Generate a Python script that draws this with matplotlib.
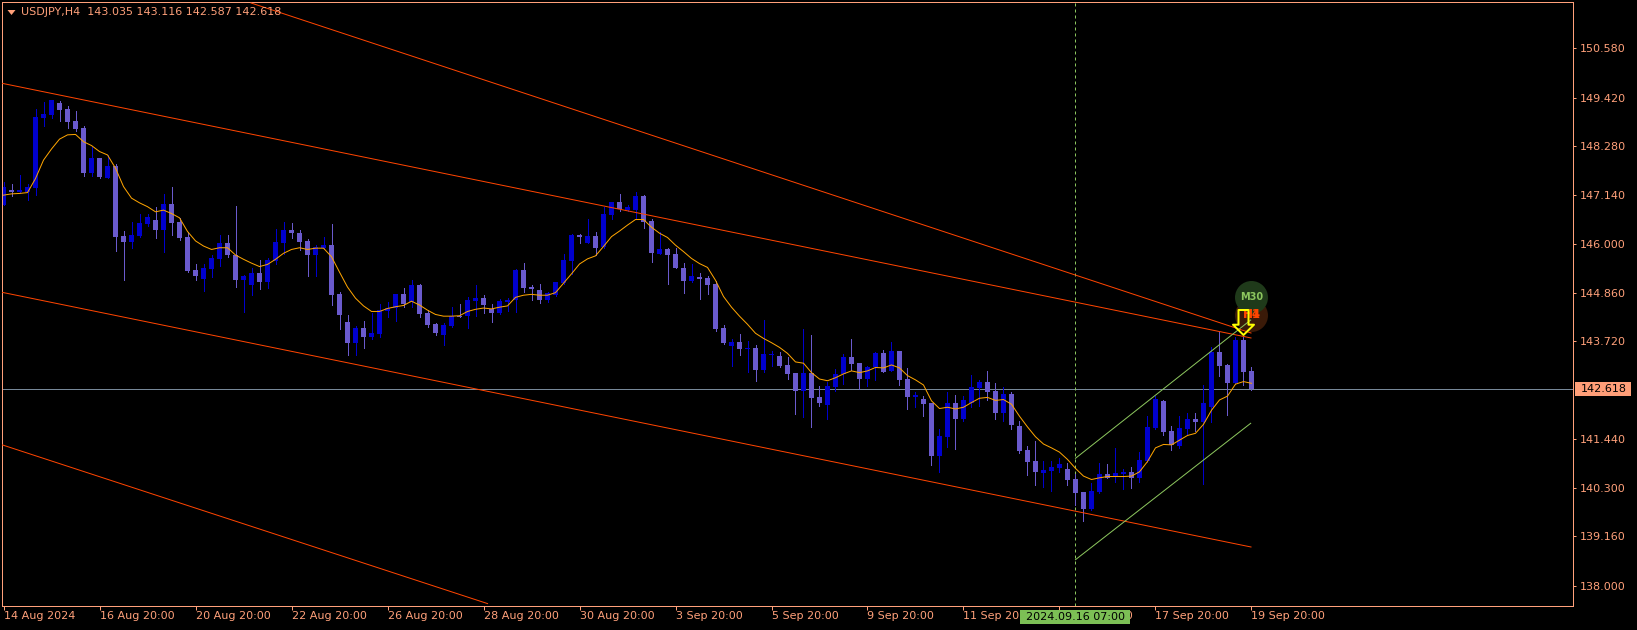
import matplotlib
matplotlib.use("Agg")
import numpy as np
import matplotlib.pyplot as plt
from matplotlib.path import Path
from matplotlib.patches import Rectangle

BLUE = "#0000CD"
SLATE = "#6A5ACD"
ORANGE = "#FFA500"
RED = "#FF4500"
SALMON = "#FFA07A"
GREEN = "#8CC65E"
FONT = "DejaVu Sans"
W, H = 1637, 630

highs = [
    147.45,147.40,147.61,147.40,149.15,149.32,149.37,149.34,149.23,149.11,
    148.76,148.27,148.01,148.08,147.88,146.30,146.51,146.70,146.70,146.86,
    147.17,147.33,146.61,146.28,145.53,145.53,145.74,146.21,146.21,146.89,
    145.27,145.44,145.62,145.67,146.35,146.51,146.49,146.33,146.12,145.97,
    146.16,146.47,144.87,144.34,144.08,144.20,144.38,144.59,144.64,144.83,
    144.97,145.16,145.06,144.45,144.15,144.15,144.52,144.59,144.76,145.04,
    144.80,144.59,144.71,144.73,145.41,145.55,145.04,145.06,144.88,145.11,
    145.76,146.23,146.23,146.58,146.28,146.86,146.98,147.17,146.91,147.21,
    147.14,146.58,146.28,145.90,145.90,145.55,145.53,145.32,145.25,145.13,
    144.10,143.77,143.89,143.73,143.63,144.22,143.49,143.47,143.35,142.98,
    144.01,143.87,142.68,142.77,143.07,143.42,143.77,143.21,143.14,143.47,
    143.52,143.71,143.49,143.10,142.54,142.44,142.28,141.67,142.54,142.47,
    142.44,142.93,142.82,143.03,142.75,142.65,142.54,141.86,141.27,141.39,
    140.92,140.92,140.99,140.88,140.62,140.20,140.41,140.88,140.85,141.23,
    140.74,140.78,141.13,141.97,142.44,142.35,141.74,141.97,142.05,142.05,
    142.70,143.59,143.94,143.19,143.83,143.83,143.116]
body_high = [
    147.33,147.26,147.26,147.33,148.97,149.04,149.37,149.30,149.15,148.87,
    148.71,148.01,148.01,147.82,147.82,146.18,146.21,146.49,146.63,146.56,
    146.93,146.93,146.51,146.16,145.39,145.44,145.67,146.02,146.02,145.74,
    145.25,145.32,145.32,145.62,146.04,146.33,146.33,146.26,146.07,145.93,
    145.97,145.97,144.83,144.17,144.03,144.03,143.92,144.45,144.50,144.83,
    144.83,145.04,145.04,144.38,144.13,144.10,144.31,144.32,144.69,144.73,
    144.73,144.48,144.66,144.69,145.39,145.39,144.99,144.92,144.85,145.11,
    145.62,146.21,146.21,146.18,146.18,146.70,146.98,146.98,146.86,147.12,
    147.12,146.54,145.88,145.88,145.76,145.44,145.25,145.23,145.20,145.06,
    144.03,143.71,143.71,143.56,143.56,143.42,143.43,143.38,143.17,142.98,
    142.98,142.98,142.42,142.68,142.96,143.35,143.35,143.21,143.12,143.45,
    143.45,143.49,143.49,142.84,142.47,142.37,142.28,141.51,142.28,142.28,
    142.35,142.65,142.77,142.77,142.56,142.49,142.49,141.74,141.18,140.92,
    140.71,140.78,140.85,140.74,140.50,140.20,140.22,140.62,140.62,140.64,
    140.67,140.67,140.95,141.72,142.37,142.33,141.62,141.69,141.90,141.90,
    142.28,143.47,143.47,143.17,143.75,143.75,143.035]
body_low = [
    146.91,147.22,147.21,147.22,147.31,148.94,149.01,149.13,148.85,148.69,
    147.66,147.66,147.56,147.54,146.16,146.04,146.04,146.18,146.47,146.33,
    146.33,146.49,146.14,145.37,145.25,145.18,145.41,145.65,145.74,145.16,
    145.16,145.04,145.11,145.11,145.60,146.02,146.26,146.04,145.74,145.74,
    145.90,144.81,144.34,143.68,143.68,143.82,143.82,143.89,144.43,144.50,
    144.59,144.64,144.36,144.10,143.92,143.87,144.08,144.30,144.31,144.66,
    144.57,144.38,144.38,144.64,144.69,144.97,144.95,144.69,144.69,144.80,
    145.09,145.60,146.16,146.02,145.90,145.93,146.68,146.82,146.79,146.79,
    146.51,145.79,145.76,145.74,145.44,145.13,145.13,145.18,145.04,144.01,
    143.68,143.61,143.54,143.54,143.05,143.05,143.41,143.14,142.96,142.56,
    142.56,142.40,142.28,142.23,142.65,142.96,143.19,142.84,142.84,143.12,
    143.00,143.03,142.82,142.42,142.42,142.26,141.04,141.04,141.48,141.90,
    141.90,142.28,142.63,142.54,142.04,142.04,141.76,141.16,140.90,140.67,
    140.64,140.69,140.76,140.48,140.17,139.80,139.80,140.20,140.53,140.57,
    140.62,140.53,140.53,140.92,141.69,141.60,141.30,141.27,141.67,141.83,
    141.83,142.19,143.14,142.75,142.75,143.00,142.618]
lows = [
    146.91,147.13,147.18,147.03,147.14,148.76,148.94,148.87,148.71,148.64,
    147.59,147.59,147.54,147.54,145.83,145.16,145.90,146.16,146.42,146.14,
    145.81,146.21,146.09,145.34,145.16,144.90,145.23,145.48,145.69,145.00,
    144.41,144.81,144.94,144.97,145.53,145.76,146.14,145.86,145.25,145.25,
    145.88,144.57,144.01,143.40,143.40,143.56,143.78,143.82,144.29,144.20,
    144.52,144.52,144.29,144.06,143.87,143.63,144.06,144.29,144.03,144.31,
    144.38,144.17,144.36,144.43,144.41,144.88,144.69,144.62,144.64,144.78,
    145.06,145.30,146.02,146.02,145.74,145.90,146.58,146.77,146.77,146.61,
    146.37,145.58,145.76,145.06,145.44,144.85,145.11,144.71,144.83,143.96,
    143.66,143.14,143.40,143.00,142.79,143.00,143.14,143.12,142.84,142.02,
    141.95,141.72,142.21,141.90,142.56,142.72,143.05,142.61,142.68,142.82,
    143.00,143.03,142.70,142.14,142.19,141.97,140.83,140.66,141.25,141.20,
    141.86,142.19,142.21,142.35,141.90,141.86,141.67,141.11,140.59,140.36,
    140.31,140.22,140.67,140.36,139.89,139.52,139.78,140.17,140.53,140.43,
    140.27,140.29,140.43,140.90,141.67,141.53,141.18,141.23,141.53,141.62,
    140.38,141.83,142.91,142.00,142.72,142.70,142.587]
up_bars = [0,2,3,4,5,6,11,13,16,17,18,20,25,26,27,30,31,33,34,35,39,40,44,46,47,48,49,
           51,55,56,58,59,62,63,64,68,69,70,71,73,75,76,78,79,82,86,91,93,95,96,100,103,
           104,105,108,109,111,114,117,118,120,121,122,125,130,131,132,136,137,139,140,
           142,143,144,147,148,150,151,154]
moving_avg = [
    147.14,147.17,147.18,147.20,147.53,147.96,148.22,148.45,148.55,148.56,
    148.39,148.30,148.16,148.08,147.77,147.34,147.07,146.96,146.87,146.75,
    146.79,146.71,146.61,146.29,146.07,145.95,145.87,145.91,145.91,145.74,
    145.64,145.55,145.47,145.52,145.64,145.78,145.87,145.91,145.87,145.90,
    145.90,145.70,145.34,144.99,144.73,144.55,144.42,144.42,144.49,144.53,
    144.56,144.66,144.57,144.45,144.35,144.31,144.31,144.32,144.42,144.47,
    144.50,144.48,144.52,144.55,144.75,144.80,144.82,144.80,144.80,144.86,
    145.08,145.30,145.53,145.65,145.72,145.94,146.17,146.30,146.44,146.57,
    146.57,146.39,146.25,146.15,145.97,145.82,145.66,145.54,145.45,145.15,
    144.77,144.52,144.31,144.12,143.91,143.79,143.69,143.58,143.44,143.24,
    143.21,142.99,142.84,142.80,142.87,142.96,143.03,142.99,143.03,143.11,
    143.10,143.17,143.10,142.92,142.82,142.70,142.33,142.15,142.18,142.14,
    142.18,142.29,142.39,142.41,142.34,142.36,142.25,141.97,141.72,141.49,
    141.32,141.23,141.13,140.96,140.75,140.57,140.49,140.53,140.56,140.56,
    140.56,140.57,140.67,140.91,141.23,141.31,141.30,141.41,141.52,141.57,
    141.78,142.11,142.35,142.44,142.72,142.78,142.74]

# trend lines, (bar start, bar end), (price start, price end)
red_lines = [((30.94, 155.94), (151.634, 143.916)),
             ((-0.19, 155.94), (149.756, 143.80)),
             ((-0.19, 155.94), (144.868, 138.912)),
             ((-0.19, 60.51), (141.302, 137.588))]
green_lines = [((134, 155.9), (140.986, 144.220)),
               ((134, 155.9), (138.615, 141.805))]

price_ticks = [150.58, 149.42, 148.28, 147.14, 146.00, 144.86, 143.72, 141.44, 140.30, 139.16, 138.00]
time_labels = ["14 Aug 2024", "16 Aug 20:00", "20 Aug 20:00", "22 Aug 20:00", "26 Aug 20:00",
               "28 Aug 20:00", "30 Aug 20:00", "3 Sep 20:00", "5 Sep 20:00", "9 Sep 20:00",
               "11 Sep 20:00", "13 Sep 20:00", "17 Sep 20:00", "19 Sep 20:00"]
last_price = 142.618
cursor_bar = 134
header = "USDJPY,H4  143.035 143.116 142.587 142.618"
cursor_label = "2024.09.16 07:00"

px = 0.72  # one pixel in points at dpi 100


def fx(x):
    return x / W


def fy(y):
    return 1 - y / H


fig = plt.figure(figsize=(W / 100, H / 100), dpi=100, facecolor="black")
ax = fig.add_axes([fx(2), fy(606), fx(1573 - 2), (606 - 2) / H], facecolor="black")
ax.set_xlim(-0.19, 196.19)
ax.set_ylim(137.532, 151.657)

bars = np.arange(len(highs))
colors = [BLUE if i in up_bars else SLATE for i in bars]
body_high = np.array(body_high)
body_low = np.array(body_low)

ax.axhline(last_price, color="#778899", lw=px, zorder=1)
ax.axvline(cursor_bar, color=GREEN, lw=px, ls=(0, (3, 3)), zorder=1)

ax.vlines(bars, lows, highs, colors=colors, lw=px, zorder=2, antialiased=False)
ax.bar(bars, body_high - body_low, bottom=body_low, width=5 / 8, color=colors,
       linewidth=0, zorder=2.1, antialiased=False)

# multi timeframe badges
ax.plot([156], [144.34], "o", ms=33 * px, mfc="#3A1A08", mec="none", zorder=3)
ax.plot([156], [144.76], "o", ms=33 * px, mfc="#1F3A1A", mec="none", zorder=3.1)
ax.text(156, 144.34, "H1", color=RED, fontsize=8.5, fontweight="bold", family=FONT,
        ha="center", va="center", zorder=3.2)
ax.text(156, 144.34, "H4", color=RED, fontsize=8.5, fontweight="bold", family=FONT,
        ha="center", va="center", zorder=3.2)
ax.text(156, 144.76, "M30", color=GREEN, fontsize=7, fontweight="bold", family=FONT,
        ha="center", va="center", zorder=3.3)

for xs, ys in red_lines:
    ax.plot(xs, ys, color=RED, lw=px, zorder=4)
for xs, ys in green_lines:
    ax.plot(xs, ys, color=GREEN, lw=px, zorder=4)
ax.plot(bars, moving_avg, color=ORANGE, lw=px, zorder=4.5)

arrow = Path([(-10.5, -2.2), (0, -12.5), (10.5, -2.2), (5, -2.2), (5, 12.5), (-5, 12.5),
              (-5, -2.2), (-10.5, -2.2)], closed=True)
ax.plot([155], [144.18], marker=arrow, ms=25 * px, mfc="none", mec="#FFFF00", mew=2 * px,
        zorder=5, clip_on=False)

for s in ax.spines.values():
    s.set_color(SALMON)
    s.set_linewidth(px)

ax.yaxis.tick_right()
ax.set_yticks(price_ticks, ["%.3f" % p for p in price_ticks])
ax.set_xticks(np.arange(len(time_labels)) * 12, time_labels)
ax.tick_params(axis="y", colors=SALMON, length=3 * px, width=px, pad=4 * px, labelsize=8,
               labelfontfamily=FONT)
ax.tick_params(axis="x", colors=SALMON, length=4 * px, width=px, pad=1 * px, labelsize=8,
               labelfontfamily=FONT)
for lab in ax.get_xticklabels():
    lab.set_ha("left")

triangle = Path([(-4, 2.5), (4, 2.5), (0, -2.5), (-4, 2.5)], closed=True)
ax.plot([(11 - 2) / 1571], [1 - 10 / 604], marker=triangle, ms=8 * px, color=SALMON, mec="none",
        transform=ax.transAxes, zorder=6)
fig.text(fx(21), fy(12), header, color=SALMON, fontsize=8, family=FONT, va="center", zorder=6)

# price tag on the right and cursor tag at the bottom
fig.add_artist(Rectangle((fx(1575), fy(396)), fx(56), 14 / H, color="#FF9E78", lw=0,
                         transform=fig.transFigure, zorder=5))
fig.text(fx(1580.5), fy(389), "%.3f" % last_price, color="black", fontsize=8, family=FONT,
         va="center", zorder=6)
fig.add_artist(Rectangle((fx(1020), fy(624)), fx(110), 14 / H, color="#7CBF55", lw=0,
                         transform=fig.transFigure, zorder=5))
fig.text(fx(1075), fy(617), cursor_label, color="black", fontsize=8, family=FONT,
         ha="center", va="center", zorder=6)

fig.savefig("out.png", dpi=100, facecolor="black")
